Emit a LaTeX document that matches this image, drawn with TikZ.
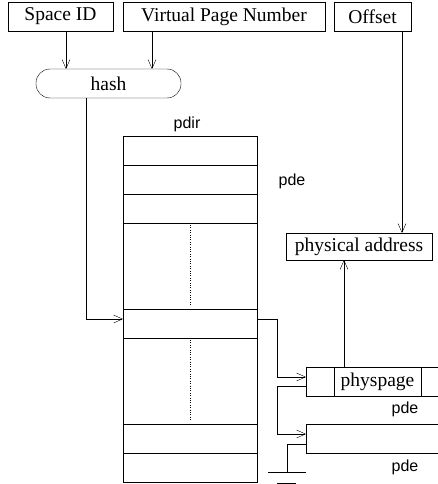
\documentclass[tikz,border=0pt]{standalone}
\usepackage{fontspec}
\setmainfont{Liberation Serif}
\newfontfamily\labelfont{Liberation Sans}
\usetikzlibrary{arrows.meta, calc, positioning}
\tikzset{
    x=1pt, y=-1pt, line width=0.6pt, % one unit is one pixel of the page, y runs down
    vee/.style = {-{Straight Barb[length=9pt,width=8pt]}},
    field/.style = {draw, rectangle, minimum height=29pt, inner sep=0pt, outer sep=0pt, font=\fontsize{19.5}{21}\selectfont},
    slot/.style = {draw, rectangle, minimum width=134pt, inner sep=0pt, outer sep=0pt}, % one slot of the pdir table
    tag/.style = {font=\labelfont\fontsize{16}{18}\selectfont}
}
\begin{document}
\begin{tikzpicture}
\clip (0,0) rectangle (438,484);
\useasboundingbox (0,0) rectangle (438,484);
% the address fields
\node[field, minimum width=105pt] (sid) at (60.5,16.5) {Space ID};
\node[field, minimum width=202pt] (vpn) at (224,16.5) {Virtual Page Number};
\node[field, minimum width=77pt] (off) at (372.5,16.5) {Offset};
\node[field, minimum width=145pt, rounded corners=14pt] (hash) at (108.5,83.5) {hash};

% the pdir table
\node[tag] (pdir) at (187,124) {pdir};
\node[slot, minimum height=29pt] (e1) at (190,150.5) {};
\node[slot, minimum height=29pt] (e2) [below=0pt of e1] {};
\node[slot, minimum height=29pt] (e3) [below=0pt of e2] {};
\node[slot, minimum height=86pt] (g1) [below=0pt of e3] {};
\node[slot, minimum height=29pt] (e4) [below=0pt of g1] {};
\node[slot, minimum height=86pt] (g2) [below=0pt of e4] {};
\node[slot, minimum height=29pt] (e5) [below=0pt of g2] {};
\node[slot, minimum height=29pt] (e6) [below=0pt of e5] {};
\draw[dotted] ([yshift=-2pt]g1.north) -- ([yshift=4pt]g1.south);
\draw[dotted] ([yshift=-2pt]g2.north) -- ([yshift=4pt]g2.south);
\node[tag] (pde1) at (292,181) {pde};

% the page entries
\node[field, minimum width=146pt, minimum height=27pt] (pa) at (359,246.5) {physical address};
\node[field, minimum width=28pt] (pp1) at (320,381.5) {};
\node[field, minimum width=87pt] (pp2) [right=0pt of pp1] {physpage};
\node[field, minimum width=40pt] (pp3) [right=0pt of pp2] {};
\node[tag] (pde2) at (405,409) {pde};
\node[field, minimum width=154pt] (nx) at (383,438.5) {};
\node[tag] (pde3) at (405,467) {pde};
\coordinate (gnd) at (287,472);

\draw[vee] ([xshift=5.5pt]sid.south) -- ([xshift=5.5pt]sid.south |- hash.north);
\draw[vee] ([xshift=-72pt]vpn.south) -- ([xshift=-72pt]vpn.south |- hash.north);
\draw[vee] ([xshift=29.5pt]off.south) -- ([xshift=29.5pt]off.south |- pa.north);
\draw[vee] ([xshift=-22.5pt]hash.south) |- ([yshift=4.5pt]e4.west);
\draw[vee] ([yshift=4.5pt]e4.east) -| (277,377) -- ([yshift=4.5pt]pp1.west);
\draw[vee] ([yshift=-4.5pt]pp1.west) -| (277,434) -- ([yshift=4.5pt]nx.west);
\draw[vee] ([xshift=-33.5pt]pp2.north) -- ([xshift=-33.5pt]pp2.north |- pa.south);
\draw[-] ([yshift=-5.5pt]nx.west) -| (gnd);
\draw[-] (268,472) -- (306,472);
\draw[-] (277,483) -- (296,483);
\end{tikzpicture}
\end{document}
